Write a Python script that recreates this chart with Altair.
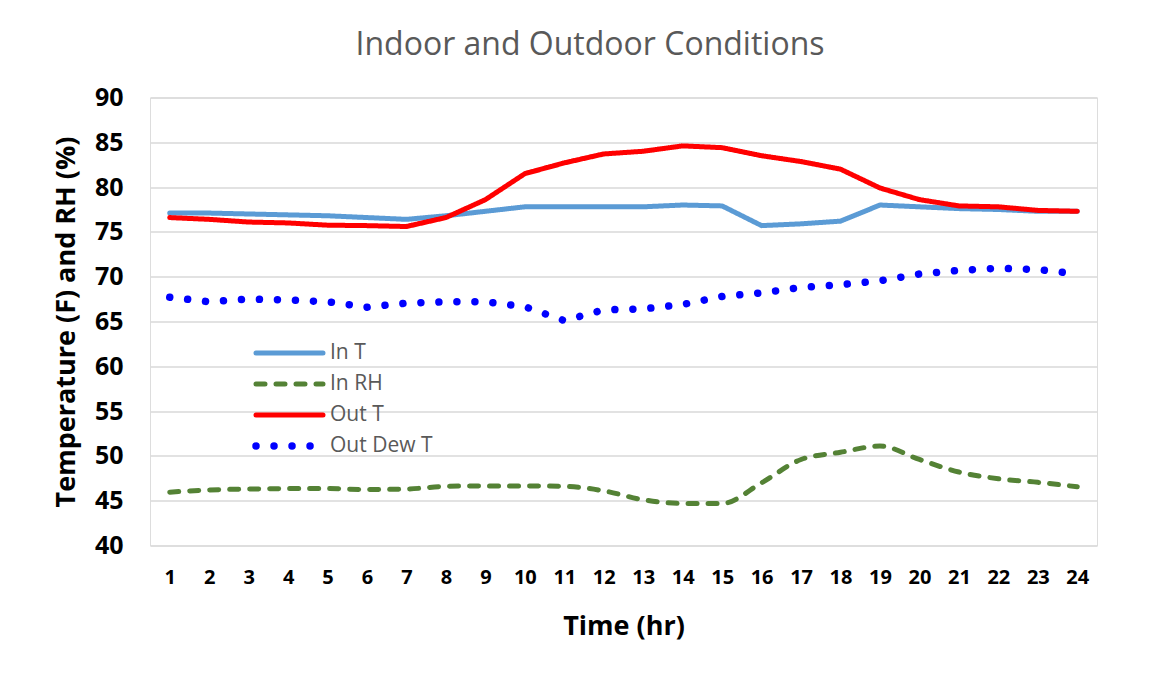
import altair as alt
import pandas as pd

hours = list(range(1, 25))
series_names = ["In T", "In RH", "Out T", "Out Dew T"]
in_t = [77.1, 77.1, 77.0, 76.9, 76.8, 76.6, 76.4, 76.8, 77.3, 77.8, 77.8, 77.8,
        77.8, 78.0, 77.9, 75.7, 75.9, 76.2, 78.0, 77.8, 77.6, 77.5, 77.3, 77.3]
in_rh = [45.95, 46.2, 46.3, 46.35, 46.35, 46.25, 46.3, 46.6, 46.65, 46.65, 46.6, 46.1,
         45.1, 44.7, 44.7, 47.0, 49.6, 50.4, 51.1, 49.6, 48.2, 47.45, 47.05, 46.55]
out_t = [76.6, 76.4, 76.1, 76.0, 75.75, 75.7, 75.6, 76.6, 78.6, 81.5, 82.7, 83.7,
         84.0, 84.6, 84.4, 83.5, 82.85, 82.0, 79.9, 78.6, 77.9, 77.8, 77.4, 77.3]
out_dew = [67.7, 67.2, 67.5, 67.4, 67.2, 66.6, 67.05, 67.2, 67.2, 66.65, 65.1, 66.3,
           66.4, 66.9, 67.8, 68.2, 68.8, 69.1, 69.55, 70.3, 70.7, 70.95, 70.8, 70.3]
y_ticks = [40, 45, 50, 55, 60, 65, 70, 75, 80, 85, 90]

colors = ["#5B9BD5", "#548235", "#FF0000", "#0000FF"]
dashes = [[1, 0], [9, 11], [1, 0], [0.01, 18]]
widths = [5, 5, 5, 7.5]

rows = []
for name, vals in zip(series_names, [in_t, in_rh, out_t, out_dew]):
    for h, v in zip(hours, vals):
        rows.append({"hour": h, "value": v, "series": name})
df = pd.DataFrame(rows)

FONT = "Open Sans"

legend = alt.Legend(
    title=None, orient="none", legendX=102, legendY=245,
    symbolType="stroke", symbolSize=4489, labelFontSize=21,
    labelColor="#595959", labelFont=FONT, rowPadding=9, padding=0,
    labelOffset=3, clipHeight=21,
)

x = alt.X("hour:Q", scale=alt.Scale(domain=[0.5, 24.5], nice=False, zero=False),
          axis=alt.Axis(values=hours, grid=False, domain=False, ticks=False, tickSize=0,
                        labelFontSize=20, labelFontWeight="bold", labelColor="#000000",
                        labelFont=FONT, labelPadding=22, title="Time (hr)",
                        titleFontSize=27, titleFontWeight="bold", titleColor="#000000",
                        titleFont=FONT, titleBaseline="alphabetic", titleY=88.5,
                        titleX=473.5, titleAlign="center"))
y = alt.Y("value:Q", scale=alt.Scale(domain=[40, 90], nice=False, zero=False),
          axis=alt.Axis(values=y_ticks, grid=True, gridColor="#D9D9D9", gridWidth=1.3,
                        domain=False, ticks=False, tickSize=0,
                        labelFontSize=25, labelFontWeight="bold", labelColor="#000000",
                        labelFont=FONT, labelPadding=27,
                        title="Temperature (F) and RH (%)", titleFontSize=27,
                        titleFontWeight="bold", titleColor="#000000", titleFont=FONT,
                        titleBaseline="alphabetic", titleX=-76, titleY=224,
                        titleAlign="center", titleAngle=270))

enc = dict(
    x=x, y=y,
    color=alt.Color("series:N", scale=alt.Scale(domain=series_names, range=colors), legend=legend),
    strokeDash=alt.StrokeDash("series:N", scale=alt.Scale(domain=series_names, range=dashes), legend=legend),
    strokeWidth=alt.StrokeWidth("series:N", scale=alt.Scale(type="ordinal", domain=series_names, range=widths), legend=legend),
    detail="series:N",
)

base = alt.Chart(df)
straight = base.transform_filter(alt.datum.series != "In RH").mark_line(strokeCap="round", strokeJoin="round").encode(**enc)
smooth = base.transform_filter(alt.datum.series == "In RH").mark_line(strokeCap="round", strokeJoin="round", interpolate="monotone").encode(**enc)

chart = alt.layer(smooth, straight).properties(
    width=947, height=448,
    title=alt.TitleParams("Indoor and Outdoor Conditions", fontSize=32, font=FONT,
                          fontWeight="normal", color="#595959", anchor="middle",
                          dx=-33.5, offset=24),
    autosize=alt.AutoSizeParams(type="none"),
    padding={"left": 142, "top": 89.5, "right": 71, "bottom": 132},
).configure_view(stroke=None).configure(background="#FFFFFF")

patch = [{"op": "add", "path": "/legends/0/encode",
          "value": {"symbols": {"update": {"strokeCap": {"value": "round"}}}}}]

chart.save("out.html", embed_options={"renderer": "svg", "actions": False, "patch": patch})
